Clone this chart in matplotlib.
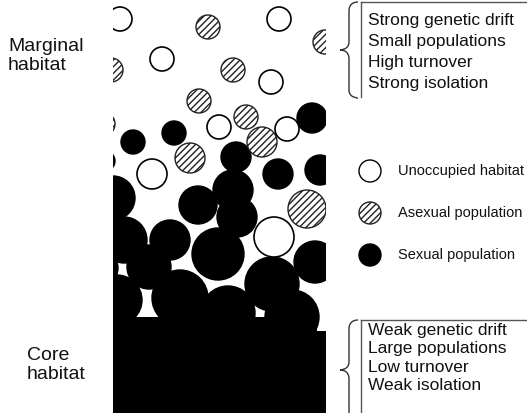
import numpy as np
import matplotlib.pyplot as plt
from matplotlib.patches import Circle, Rectangle, PathPatch
from matplotlib.path import Path

plt.rcParams['font.family'] = ['Liberation Sans', 'DejaVu Sans']
plt.rcParams['hatch.linewidth'] = 1.0

# circles in pixel coordinates (x, y, radius), y measured from the top
open_x = [120, 279, 162, 271, 219, 287, 152, 274]
open_y = [19, 19, 59, 82, 127, 129, 174, 237]
open_r = [12, 12, 12, 12, 12, 12, 15, 20]

asex_x = [208, 325, 111, 233, 199, 246, 262, 190, 307, 103]
asex_y = [27, 42, 70, 70, 101, 117, 142, 158, 209, 124]
asex_r = [12, 12, 12, 12, 12, 12, 15, 15, 19, 12]

sex_x = [312, 133, 174, 105, 236, 278, 320, 113, 124, 198, 233, 237, 170, 218,
         315, 149, 100, 272, 117, 180, 228, 292]
sex_y = [118, 142, 133, 161, 157, 174, 170, 198, 240, 205, 190, 217, 240, 254,
         262, 267, 268, 284, 300, 298, 313, 317]
sex_r = [15, 12, 12, 10, 15, 15, 15, 22, 23, 19, 20, 20, 20, 26,
         21, 22, 18, 27, 25, 28, 27, 27]

upper_text = ["Strong genetic drift", "Small populations", "High turnover", "Strong isolation"]
lower_text = ["Weak genetic drift", "Large populations", "Low turnover", "Weak isolation"]
legend_labels = ["Unoccupied habitat", "Asexual population", "Sexual population"]

fig = plt.figure(figsize=(5.27, 4.13), dpi=100)
ax = fig.add_axes([0, 0, 1, 1])
ax.set_xlim(0, 527)
ax.set_ylim(413, 0)
ax.axis('off')

panel = Rectangle((113, 0), 213, 413, transform=ax.transData)

# core habitat: solid block at the bottom
ax.add_patch(Rectangle((113, 317), 204, 96, facecolor='black', edgecolor='none'))
ax.add_patch(Rectangle((316, 331), 10, 82, facecolor='black', edgecolor='none'))

for x, y, r in zip(sex_x, sex_y, sex_r):
    c = Circle((x, y), r, facecolor='black', edgecolor='black', lw=1)
    ax.add_patch(c)
    c.set_clip_path(panel)

for x, y, r in zip(asex_x, asex_y, asex_r):
    c = Circle((x, y), r, facecolor='white', edgecolor='#222222', lw=1, hatch='/////')
    ax.add_patch(c)
    c.set_clip_path(panel)

for x, y, r in zip(open_x, open_y, open_r):
    c = Circle((x, y), r, facecolor='white', edgecolor='black', lw=1.2)
    ax.add_patch(c)
    c.set_clip_path(panel)

# legend
leg_y = [171, 213, 255]
ax.add_patch(Circle((370, leg_y[0]), 11, facecolor='white', edgecolor='black', lw=1))
ax.add_patch(Circle((370, leg_y[1]), 11, facecolor='white', edgecolor='#222222', lw=1, hatch='/////'))
ax.add_patch(Circle((370, leg_y[2]), 11, facecolor='black', edgecolor='black', lw=1))
for yy, lab in zip(leg_y, legend_labels):
    ax.text(398, yy, lab, fontsize=10.5, va='center', ha='left', color='#111111')

# left side labels
ax.text(8, 56, "Marginal\nhabitat", fontsize=14, va='center', ha='left',
        linespacing=1.15, color='#111111')
ax.text(27, 365, "Core\nhabitat", fontsize=14, va='center', ha='left',
        linespacing=1.15, color='#111111')


def brace(y0, y1, x_end=358, x_mid=349, x_tip=340):
    yc = (y0 + y1) / 2
    d = 8
    verts = [(x_end, y0), (x_mid, y0), (x_mid, y0 + d), (x_mid, y0 + d),
             (x_mid, yc - d),
             (x_mid, yc), (x_tip, yc), (x_tip, yc),
             (x_mid, yc), (x_mid, yc + d), (x_mid, yc + d),
             (x_mid, y1 - d),
             (x_mid, y1), (x_end, y1), (x_end, y1)]
    codes = [Path.MOVETO, Path.CURVE4, Path.CURVE4, Path.CURVE4,
             Path.LINETO,
             Path.CURVE4, Path.CURVE4, Path.CURVE4,
             Path.CURVE4, Path.CURVE4, Path.CURVE4,
             Path.LINETO,
             Path.CURVE4, Path.CURVE4, Path.CURVE4]
    ax.add_patch(PathPatch(Path(verts, codes), facecolor='none', edgecolor='#333333', lw=1))


# upper box
brace(2, 98)
ax.plot([361, 527], [2, 2], color='#555555', lw=1)
ax.plot([361, 361], [2, 97], color='#555555', lw=1)
for i, t in enumerate(upper_text):
    ax.text(368, 20 + i * 21.3, t, fontsize=12.5, va='center', ha='left', color='#111111')

# lower box
brace(320, 420)
ax.plot([361, 527], [320, 320], color='#555555', lw=1)
ax.plot([361, 361], [320, 413], color='#555555', lw=1)
for i, t in enumerate(lower_text):
    ax.text(368, 331 + i * 18, t, fontsize=12.5, va='center', ha='left', color='#111111')

fig.savefig('out.png', dpi=100)
